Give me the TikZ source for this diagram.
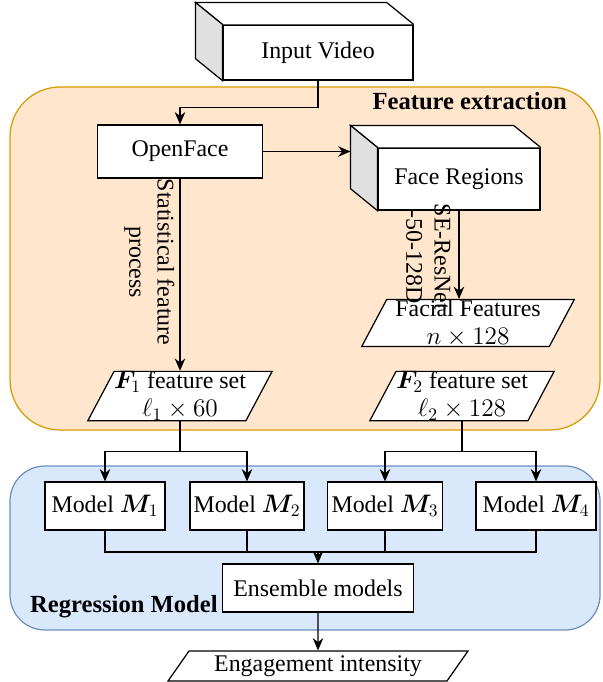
\documentclass[tikz,border=0pt]{standalone}
\usepackage{fontspec}
\setmainfont{Liberation Serif}
\usepackage{amsmath}
\usepackage{bm}
\usetikzlibrary{arrows.meta,
                shapes.geometric}
\usetikzlibrary{calc,positioning}

\definecolor{fefill}{HTML}{FFE6CC}
\definecolor{feline}{HTML}{D79B00}
\definecolor{rmfill}{HTML}{DAE8FC}
\definecolor{rmline}{HTML}{6C8EBF}
\definecolor{sidegray}{HTML}{E0E0E0}

\tikzset{
    box/.style={draw, fill=white, line width=0.7pt, inner sep=2pt},
    databox/.style={trapezium, trapezium left angle=62, trapezium right angle=118,
        trapezium stretches body, draw, fill=white, line width=0.7pt,
        align=center, inner sep=0pt, font=\fontsize{13.6}{16}\selectfont},
    arr/.style={-{Stealth[length=7pt,width=6pt]}, line width=0.7pt},
    conn/.style={line width=0.7pt},
    region/.style={line width=0.7pt},
    title/.style={font=\fontsize{14}{16}\selectfont\bfseries},
    sidelabel/.style={rotate=-90, anchor=north, align=center, inner sep=3pt}
}

\begin{document}
\begin{tikzpicture}[x=0.02cm, y=-0.02cm, font=\fontsize{13.6}{16}\selectfont]
    \useasboundingbox (0,0) rectangle (602,682);

    % depth of the 3D boxes
    \def\dx{-27}
    \def\dy{-22}

    % the two background regions
    \draw[region, fill=fefill, draw=feline, rounded corners=1cm] (10,87) rectangle (600,430);
    \draw[region, fill=rmfill, draw=rmline, rounded corners=0.7cm] (10,466) rectangle (600,630);
    \node[title, anchor=east] (fetitle) at (573,101) {Feature extraction};
    \node[title, anchor=west] (rmtitle) at (24,607) {Regression Model};

    % input video (3D box)
    \node[box, minimum width=3.8cm, minimum height=1.1cm] (video) at (318,52.5) {Input Video};
    \filldraw[fill=white, line width=0.7pt] (video.north west) -- ++(\dx,\dy) -- ($(video.north east)+(\dx,\dy)$) -- (video.north east);
    \filldraw[fill=sidegray, line width=0.7pt] (video.north west) -- ++(\dx,\dy) -- ($(video.south west)+(\dx,\dy)$) -- (video.south west) -- cycle;

    % feature extraction
    \node[box, minimum width=3.3cm, minimum height=1.06cm] (openface) at (180,151.5) {OpenFace};
    \node[box, minimum width=3.24cm, minimum height=1.24cm] (faceregions) at (459,179) {Face Regions};
    \filldraw[fill=white, line width=0.7pt] (faceregions.north west) -- ++(\dx,\dy) -- ($(faceregions.north east)+(\dx,\dy)$) -- (faceregions.north east);
    \filldraw[fill=sidegray, line width=0.7pt] (faceregions.north west) -- ++(\dx,\dy) -- ($(faceregions.south west)+(\dx,\dy)$) -- (faceregions.south west) -- cycle;
    \coordinate (frback) at ($(faceregions.north west)+(\dx,\dy)$);

    \node[databox, minimum width=4.25cm, minimum height=0.9cm] (facial) at (468,323) {Facial Features\\$n\times 128$};
    \node[databox, minimum width=3.6cm, minimum height=0.96cm] (f1) at (180,396) {$\bm{F}_1$ feature set\\$\ell_1\times 60$};
    \node[databox, minimum width=3.6cm, minimum height=0.96cm] (f2) at (462,396) {$\bm{F}_2$ feature set\\$\ell_2\times 128$};

    \draw[arr] (video.south) -- ++(0,27) -| (openface.north);
    \draw[arr] (openface.east) -- (openface.east -| frback);
    \draw[arr] (openface.south) -- (openface.south |- f1.north);
    \draw[arr] (faceregions.south) -- (faceregions.south |- facial.north);
    \node[sidelabel] (statlbl) at (180,262) {Statistical feature\\process};
    \node[sidelabel] (selbl) at (456,257) {SE-ResNet\\-50-128D};

    % regression models
    \node[box, minimum width=2.4cm, minimum height=0.96cm] (m1) at (105,506) {Model $\bm{M}_1$};
    \node[box, minimum width=2.2cm, minimum height=0.96cm] (m2) at (247,506) {Model $\bm{M}_2$};
    \node[box, minimum width=2.3cm, minimum height=0.96cm] (m3) at (385,506) {Model $\bm{M}_3$};
    \node[box, minimum width=2.4cm, minimum height=0.96cm] (m4) at (536,506) {Model $\bm{M}_4$};
    \node[box, minimum width=3.82cm, minimum height=0.96cm] (ensemble) at (318,588) {Ensemble models};
    \node[databox, trapezium left angle=45, trapezium right angle=135,
          minimum width=6cm, minimum height=0.6cm] (engage) at (318,666) {Engagement intensity};

    % split the feature sets over the models
    \coordinate (b1) at ($(f1.south)+(0,30)$);
    \coordinate (b2) at ($(f2.south)+(0,30)$);
    \draw[conn] (f1.south) -- (b1);
    \draw[arr] (b1) -| (m1.north);
    \draw[arr] (b1) -| (m2.north);
    \draw[conn] (f2.south) -- (b2);
    \draw[arr] (b2) -| (m3.north);
    \draw[arr] (b2) -| (m4.north);

    % merge into the ensemble
    \coordinate (merge) at (318,552);
    \draw[conn] (m1.south) |- (merge);
    \draw[conn] (m4.south) |- (merge);
    \draw[conn] (m2.south) -- (m2.south |- merge);
    \draw[conn] (m3.south) -- (m3.south |- merge);
    \draw[arr] (merge) -- (ensemble.north);
    \draw[arr] (ensemble.south) -- (engage.north);
\end{tikzpicture}
\end{document}
